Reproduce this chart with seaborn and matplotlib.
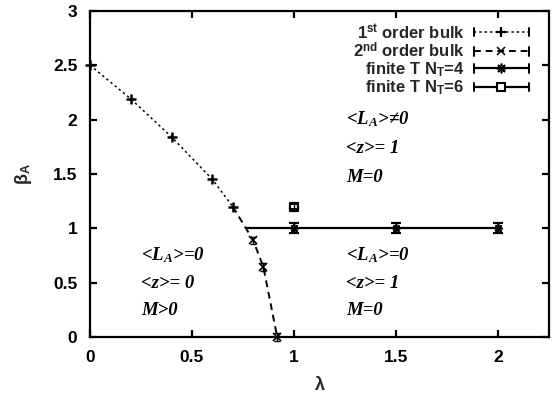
import matplotlib
matplotlib.use("Agg")
import matplotlib.pyplot as plt
from matplotlib.lines import Line2D
from matplotlib.legend_handler import HandlerBase
import seaborn as sns
import pandas as pd

# ---- data -------------------------------------------------------------
first_lam = [0.0, 0.2, 0.4, 0.6, 0.7]
first_beta = [2.5, 2.19, 1.84, 1.45, 1.2]

second_lam = [0.7, 0.8, 0.85, 0.918]
second_beta = [1.2, 0.89, 0.645, 0.0]
second_err = [0.0, 0.035, 0.035, 0.035]

nt4_lam = [0.763, 1.0, 1.5, 2.0]
nt4_beta = [1.0, 1.0, 1.0, 1.0]
nt4_err = [0.0, 0.045, 0.045, 0.045]

nt6_lam = [1.0]
nt6_beta = [1.2]
nt6_err = [0.02]

series_labels = [r"1$^{\mathrm{st}}$ order bulk", r"2$^{\mathrm{nd}}$ order bulk",
                 r"finite T N$_{\mathrm{T}}$=4", r"finite T N$_{\mathrm{T}}$=6"]

x_ticks = [0, 0.5, 1, 1.5, 2]
x_tick_labels = ["0", "0.5", "1", "1.5", "2"]
y_ticks = [0, 0.5, 1, 1.5, 2, 2.5, 3]
y_tick_labels = ["0", "0.5", "1", "1.5", "2", "2.5", "3"]

phase_labels = [
    (0.25, 0.75, r"<$L_A$>=0"),
    (0.25, 0.49, "<z>= 0"),
    (0.25, 0.245, "M>0"),
    (1.255, 0.75, r"<$L_A$>=0"),
    (1.255, 0.49, "<z>= 1"),
    (1.255, 0.245, "M=0"),
    (1.255, 2.0, r"<$L_A$>≠0"),
    (1.255, 1.73, "<z>= 1"),
    (1.255, 1.47, "M=0"),
]

# ---- style ------------------------------------------------------------
sns.set_theme(style="ticks")
plt.rcParams.update({
    "font.family": ["Liberation Sans", "DejaVu Sans"],
    "font.weight": "bold",
    "mathtext.fontset": "custom",
    "mathtext.rm": "Liberation Sans:bold",
    "mathtext.it": "Liberation Serif:italic:bold",
    "mathtext.bf": "Liberation Sans:bold",
    "axes.linewidth": 1.6,
    "xtick.direction": "in",
    "ytick.direction": "in",
    "xtick.major.size": 5,
    "ytick.major.size": 5,
    "xtick.major.width": 1.6,
    "ytick.major.width": 1.6,
    "xtick.top": True,
    "ytick.right": True,
})

fig = plt.figure(figsize=(5.59, 3.99), dpi=100)
ax = fig.add_axes([0.161, 0.155, 0.821, 0.818])

first_df = pd.DataFrame({"lam": first_lam, "beta": first_beta})
second_df = pd.DataFrame({"lam": second_lam, "beta": second_beta})
nt4_df = pd.DataFrame({"lam": nt4_lam, "beta": nt4_beta})
nt6_df = pd.DataFrame({"lam": nt6_lam, "beta": nt6_beta})

lw = 1.1
first_ls = (0, (1.5, 2.0))
second_ls = (0, (3.5, 2.5))
star = (8, 2, 0)

sns.lineplot(data=first_df, x="lam", y="beta", ax=ax, color="black", sort=False,
             estimator=None, linewidth=lw, linestyle=first_ls, marker="+",
             markersize=7, markeredgewidth=1.8, markeredgecolor="black",
             clip_on=False)
sns.lineplot(data=second_df, x="lam", y="beta", ax=ax, color="black", sort=False,
             estimator=None, linewidth=lw + 0.3, linestyle=second_ls, marker="x",
             markersize=6, markeredgewidth=1.2, markeredgecolor="black",
             markevery=[1, 2, 3], clip_on=False)
sns.lineplot(data=nt4_df, x="lam", y="beta", ax=ax, color="black", sort=False,
             estimator=None, linewidth=1.6, linestyle="-", marker=star,
             markersize=6, markeredgewidth=1.2, markeredgecolor="black",
             markevery=[1, 2, 3])
sns.scatterplot(data=nt6_df, x="lam", y="beta", ax=ax, marker="s", s=40,
                facecolor="white", edgecolor="black", linewidth=1.6, zorder=4)

# error bars
ax.errorbar(second_lam[1:], second_beta[1:], yerr=second_err[1:], fmt="none",
            ecolor="black", elinewidth=1.0, capsize=2, capthick=1.0, clip_on=False)
ax.errorbar(nt4_lam[1:], nt4_beta[1:], yerr=nt4_err[1:], fmt="none",
            ecolor="black", elinewidth=1.2, capsize=3.5, capthick=1.6)
ax.errorbar(nt6_lam, nt6_beta, yerr=nt6_err, fmt="none",
            ecolor="black", elinewidth=1.0, capsize=2.0, capthick=1.4, zorder=5)

for x, y, s in phase_labels:
    ax.text(x, y, s, ha="left", va="center", fontsize=13.5, color="black",
            family=["Liberation Serif", "DejaVu Serif"], style="italic",
            weight="bold")

ax.set_xlim(0, 2.25)
ax.set_ylim(0, 3)
ax.set_xticks(x_ticks)
ax.set_xticklabels(x_tick_labels)
ax.set_yticks(y_ticks)
ax.set_yticklabels(y_tick_labels)
ax.tick_params(labelsize=12.5, pad=9, colors="black")
ax.set_xlabel("λ", fontsize=13, fontweight="bold", labelpad=9)
ax.set_ylabel(r"β$_{\mathrm{A}}$", fontsize=13, fontweight="bold", labelpad=14)
for sp in ax.spines.values():
    sp.set_color("black")


class CapLineHandler(HandlerBase):
    """Legend sample: a line with end caps and the marker in the middle."""

    def create_artists(self, legend, orig, xdescent, ydescent, width, height,
                       fontsize, trans):
        x0, x1 = -xdescent, -xdescent + width
        y = -ydescent + height / 2
        c = 3.0
        line = Line2D([x0, x1], [y, y])
        line.update_from(orig)
        line.set_marker("None")
        mark = Line2D([(x0 + x1) / 2], [y])
        mark.update_from(orig)
        mark.set_linestyle("None")
        art = [
            line,
            Line2D([x0, x0], [y - c, y + c], color="black", lw=1.4),
            Line2D([x1, x1], [y - c, y + c], color="black", lw=1.4),
            mark,
        ]
        for a in art:
            a.set_transform(trans)
        return art


handles = [
    Line2D([], [], color="black", lw=lw, ls=first_ls, marker="+", markersize=7,
           markeredgewidth=1.6),
    Line2D([], [], color="black", lw=lw + 0.3, ls=second_ls, marker="x", markersize=6,
           markeredgewidth=1.1),
    Line2D([], [], color="black", lw=1.6, ls="-", marker=star, markersize=7,
           markeredgewidth=1.2),
    Line2D([], [], color="black", lw=1.6, ls="-", marker="s", markersize=6,
           markeredgewidth=1.5, markerfacecolor="white"),
]
ax.legend(handles, series_labels, handler_map={Line2D: CapLineHandler()},
          loc="upper right", bbox_to_anchor=(0.956, 0.965), frameon=False,
          markerfirst=False, fontsize=12, handlelength=3.3, handletextpad=0.55,
          labelspacing=0.0, borderpad=0, borderaxespad=0)

fig.savefig("out.png", dpi=100)
